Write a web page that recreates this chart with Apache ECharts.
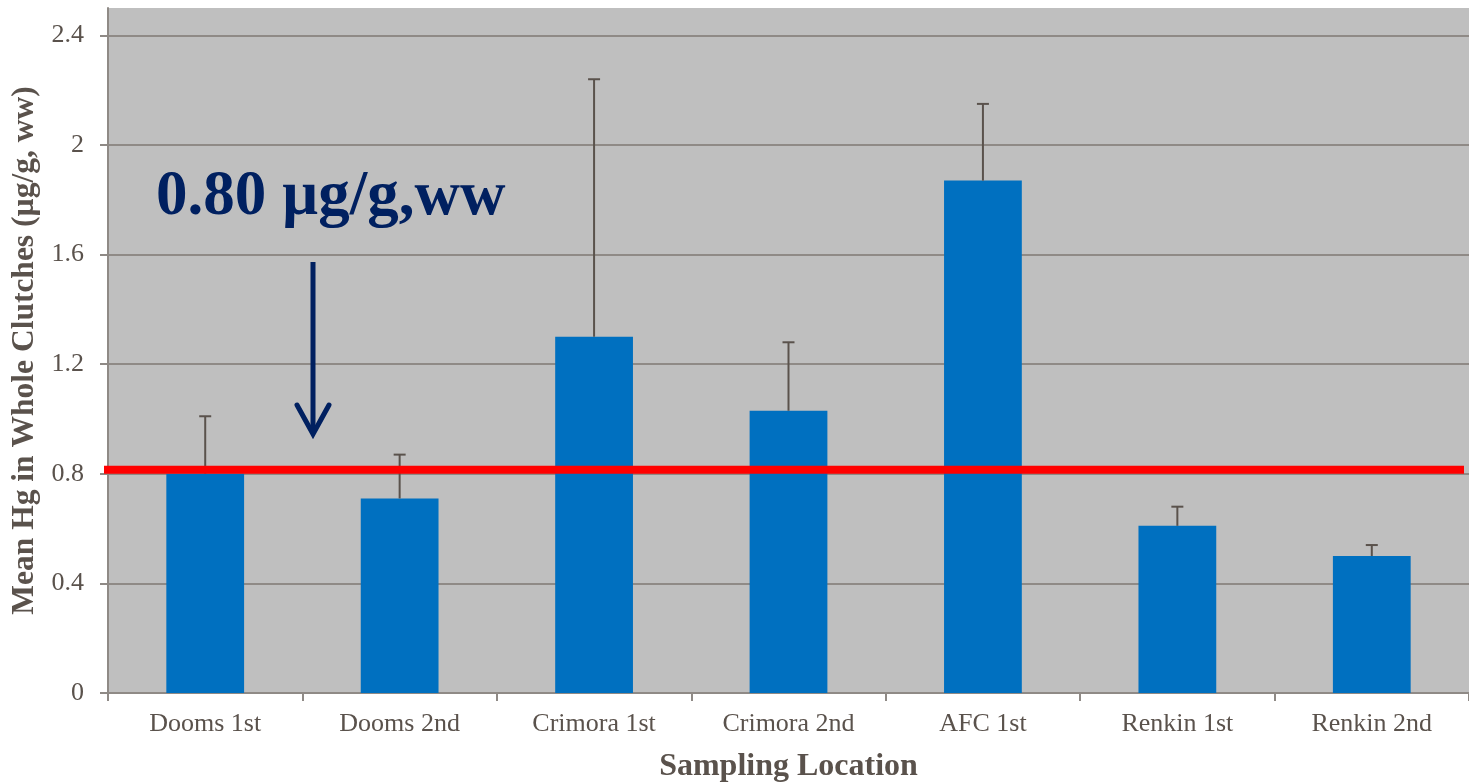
<!DOCTYPE html>
<html>
<head>
<meta charset="utf-8">
<title>Mean Hg in Whole Clutches by Sampling Location</title>
<script src="https://cdn.jsdelivr.net/npm/echarts@6/dist/echarts.min.js"></script>
<style>
  html, body { margin: 0; padding: 0; background: #ffffff; }
  #chart { width: 1469px; height: 783px; }
</style>
</head>
<body>
<div id="chart"></div>
<script>
// Sampling locations along the x axis
const categories = ['Dooms 1st', 'Dooms 2nd', 'Crimora 1st', 'Crimora 2nd', 'AFC 1st', 'Renkin 1st', 'Renkin 2nd'];
// Mean Hg concentration (µg/g, ww) per location
const meanHg = [0.80, 0.71, 1.30, 1.03, 1.87, 0.61, 0.50];
// Upper end of each error bar (µg/g, ww)
const upperHg = [1.01, 0.87, 2.24, 1.28, 2.15, 0.68, 0.54];
// Reference threshold (µg/g, ww)
const threshold = 0.80;
const thresholdLabel = '0.80 µg/g,ww';
// Y axis ticks
const yTicks = [0, 0.4, 0.8, 1.2, 1.6, 2, 2.4];

const textColor = '#5a524c';
const axisColor = '#8f8a86';
const serif = '"Liberation Serif", "Times New Roman", serif';

const chart = echarts.init(document.getElementById('chart'), null, { renderer: 'canvas' });

const option = {
  animation: false,
  backgroundColor: '#ffffff',
  grid: {
    left: 108, right: 0, top: 8, bottom: 90,
    containLabel: false, outerBoundsMode: 'none',
    show: true, backgroundColor: '#bfbfbf', borderWidth: 0
  },
  xAxis: {
    type: 'category',
    data: categories,
    name: 'Sampling Location',
    nameLocation: 'middle',
    nameGap: 58,
    nameTextStyle: { fontFamily: serif, fontWeight: 'bold', fontSize: 32, color: textColor },
    axisLine: { lineStyle: { color: axisColor, width: 2 } },
    axisTick: { show: true, length: 8, lineStyle: { color: axisColor, width: 2 } },
    axisLabel: { fontFamily: serif, fontSize: 26, color: textColor, margin: 18 },
    splitLine: { show: false }
  },
  yAxis: {
    type: 'value',
    min: 0, max: 2.5, interval: 0.4,
    name: 'Mean Hg in Whole Clutches (µg/g, ww)',
    nameLocation: 'middle',
    nameGap: 65,
    nameTextStyle: { fontFamily: serif, fontWeight: 'bold', fontSize: 31.5, color: textColor },
    axisLine: { show: true, lineStyle: { color: axisColor, width: 2 } },
    axisTick: { show: true, length: 8, customValues: yTicks, lineStyle: { color: axisColor, width: 2 } },
    axisLabel: {
      fontFamily: serif, fontSize: 26, color: textColor, margin: 24,
      customValues: yTicks
    },
    splitLine: { show: true, lineStyle: { color: axisColor, width: 2 } }
  },
  series: [
    {
      name: 'Mean Hg',
      type: 'bar',
      data: meanHg,
      barWidth: '40%',
      itemStyle: { color: '#0070c0' },
      z: 2
    },
    {
      name: 'Error',
      type: 'custom',
      data: categories.map((c, i) => [i, meanHg[i], upperHg[i]]),
      renderItem: function (params, api) {
        const base = api.coord([api.value(0), api.value(1)]);
        const top = api.coord([api.value(0), api.value(2)]);
        const half = 6;
        const style = { stroke: '#5a524c', lineWidth: 2 };
        return {
          type: 'group',
          children: [
            { type: 'line', shape: { x1: base[0], y1: base[1], x2: top[0], y2: top[1] }, style: style },
            { type: 'line', shape: { x1: top[0] - half, y1: top[1], x2: top[0] + half, y2: top[1] }, style: style }
          ]
        };
      },
      z: 3
    },
    {
      name: 'Threshold',
      type: 'custom',
      data: [[0, threshold]],
      renderItem: function (params, api) {
        const cs = params.coordSys;
        const y = api.coord([0, api.value(1)])[1];
        return {
          type: 'rect',
          shape: { x: cs.x - 4, y: y - 8, width: cs.width - 1, height: 8 },
          style: { fill: '#ff0000' }
        };
      },
      z: 5
    }
  ],
  graphic: [
    {
      type: 'text',
      left: 156, top: 166,
      style: {
        text: thresholdLabel,
        fontFamily: serif, fontWeight: 'bold', fontSize: 63,
        fill: '#002060'
      },
      z: 10
    },
    {
      type: 'line',
      shape: { x1: 313, y1: 262, x2: 313, y2: 432 },
      style: { stroke: '#002060', lineWidth: 5 },
      z: 10
    },
    {
      type: 'polyline',
      shape: { points: [[297, 405], [313, 434], [329, 405]] },
      style: { stroke: '#002060', lineWidth: 5, lineCap: 'round', lineJoin: 'miter', fill: null },
      z: 10
    }
  ]
};

chart.setOption(option);
</script>
</body>
</html>
